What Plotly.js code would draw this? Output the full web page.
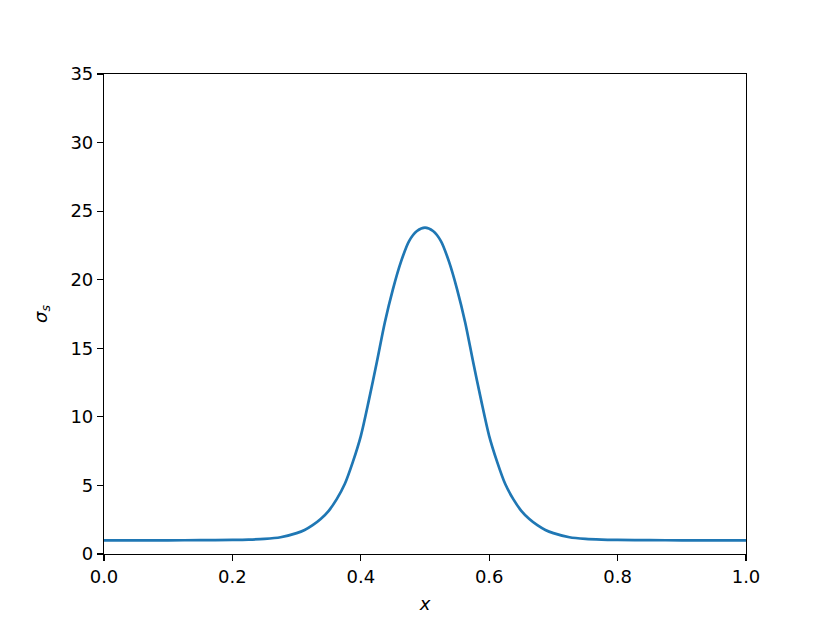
<!DOCTYPE html>
<html>
<head>
<meta charset="utf-8">
<script src="https://cdn.plot.ly/plotly-3.0.1.min.js"></script>
<style>html,body{margin:0;padding:0;background:#fff;}#chart{width:830px;height:623px;}</style>
</head>
<body>
<div id="chart"></div>
<script>
const xValues = [0.0, 0.05, 0.1, 0.15, 0.2, 0.225, 0.25, 0.275, 0.3, 0.3125, 0.325, 0.3375, 0.35, 0.3625, 0.375, 0.3875, 0.4, 0.4125, 0.425, 0.4375, 0.45, 0.4625, 0.475, 0.4875, 0.5,
  0.5125, 0.525, 0.5375, 0.55, 0.5625, 0.575, 0.5875, 0.6, 0.6125, 0.625, 0.6375, 0.65, 0.6625, 0.675, 0.6875, 0.7, 0.725, 0.75, 0.775, 0.8, 0.85, 0.9, 0.95, 1.0];
const sigmaValues = [1.0, 1.0, 1.0, 1.01, 1.03, 1.05, 1.1, 1.22, 1.52, 1.75, 2.1, 2.55, 3.15, 4.0, 5.1, 6.7, 8.6, 11.2, 14.0, 16.9, 19.3, 21.3, 22.8, 23.55, 23.8,
  23.55, 22.8, 21.3, 19.3, 16.9, 14.0, 11.2, 8.6, 6.7, 5.1, 4.0, 3.15, 2.55, 2.1, 1.75, 1.52, 1.22, 1.1, 1.05, 1.03, 1.01, 1.0, 1.0, 1.0];
const xTicks = [0.0, 0.2, 0.4, 0.6, 0.8, 1.0];
const yTicks = [0, 5, 10, 15, 20, 25, 30, 35];

const trace = {
  x: xValues, y: sigmaValues, type: 'scatter', mode: 'lines',
  line: {color: '#1f77b4', width: 2.7, shape: 'spline', smoothing: 0.8},
  hoverinfo: 'skip'
};
const font = {family: 'DejaVu Sans, sans-serif', size: 18, color: '#000'};
const layout = {
  width: 830, height: 623,
  margin: {l: 104, r: 84, t: 74, b: 69},
  paper_bgcolor: '#fff', plot_bgcolor: '#fff',
  font: font,
  showlegend: false,
  xaxis: {
    range: [0, 1], tickvals: xTicks, ticktext: xTicks.map(v => v.toFixed(1)),
    showgrid: false, zeroline: false, showline: true, mirror: true,
    linecolor: '#000', linewidth: 1.1, ticks: 'outside', ticklen: 6, tickwidth: 1.1, tickcolor: '#000',
    tickfont: font,
    title: {text: '<i>x</i>', font: font, standoff: 11}
  },
  yaxis: {
    range: [0, 35], tickvals: yTicks, ticktext: yTicks.map(String),
    showgrid: false, zeroline: false, showline: true, mirror: true,
    linecolor: '#000', linewidth: 1.1, ticks: 'outside', ticklen: 6, tickwidth: 1.1, tickcolor: '#000',
    tickfont: font,
    title: {text: '<i>σ<sub>s</sub></i>', font: font, standoff: 18}
  }
};
Plotly.newPlot('chart', [trace], layout, {staticPlot: true, displayModeBar: false});
</script>
</body>
</html>
